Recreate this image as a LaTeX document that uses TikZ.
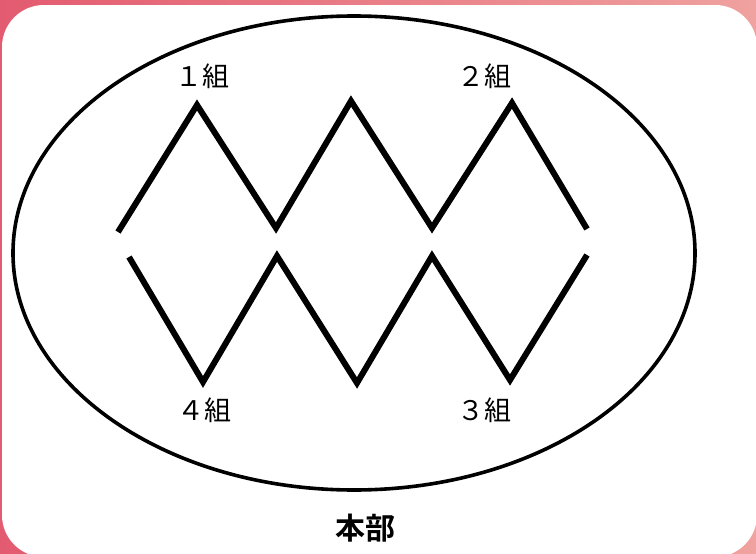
\documentclass[tikz,border=0pt]{standalone}
\usepackage{fontspec}
\newfontfamily\jpfont{Noto Sans CJK JP}
\newfontfamily\jpbold{Noto Sans CJK JP Bold}
\definecolor{frameL}{HTML}{E35B70}
\definecolor{frameR}{HTML}{EFA29F}
\tikzset{
  zig/.style={line width=6pt, line join=miter, line cap=butt, black},
  grp/.style={font=\jpfont\fontsize{27}{27}\selectfont, inner sep=0pt},
  hq/.style={font=\jpbold\fontsize{30}{30}\selectfont, inner sep=0pt},
}
\begin{document}
\begin{tikzpicture}[x=1pt,y=-1pt]
\useasboundingbox (0,0) rectangle (756,554);
\shade[left color=frameL, right color=frameR] (0,0) rectangle (756,554);
\fill[white, rounded corners=42pt] (2,5) rectangle (757,557);
\draw[line width=3.6pt] (354,253) ellipse [x radius=341, y radius=237];
% upper zigzag
\coordinate (u0) at (118,232);
\coordinate (u1) at (197,105);
\coordinate (u2) at (276,228);
\coordinate (u3) at (351,101);
\coordinate (u4) at (432,228);
\coordinate (u5) at (512,103);
\coordinate (u6) at (587,229);
\draw[zig] (u0) -- (u1) -- (u2) -- (u3) -- (u4) -- (u5) -- (u6);
% lower zigzag
\coordinate (l0) at (129,257);
\coordinate (l1) at (203,382);
\coordinate (l2) at (277,256);
\coordinate (l3) at (357,383);
\coordinate (l4) at (432,256);
\coordinate (l5) at (510,380);
\coordinate (l6) at (587,255);
\draw[zig] (l0) -- (l1) -- (l2) -- (l3) -- (l4) -- (l5) -- (l6);
\node[grp] (g1) at (202,76) {１組};
\node[grp] (g2) at (484,76) {２組};
\node[grp] (g4) at (204,410) {４組};
\node[grp] (g3) at (484,410) {３組};
\node[hq] (hq) at (365,528) {本部};
\end{tikzpicture}
\end{document}
